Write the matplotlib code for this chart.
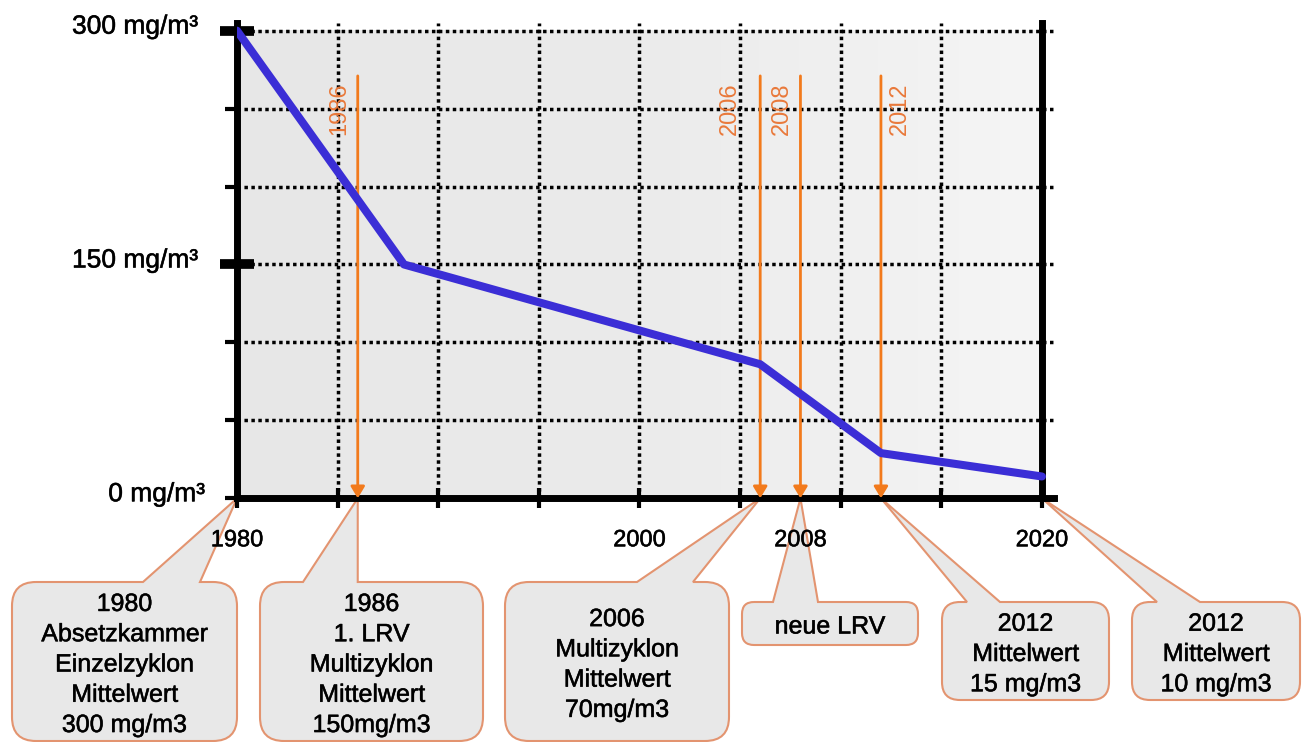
import numpy as np
import matplotlib
matplotlib.use("Agg")
import matplotlib.pyplot as plt
import matplotlib.patheffects as pe
from matplotlib.path import Path
from matplotlib.patches import PathPatch
from matplotlib.colors import LinearSegmentedColormap

plt.rcParams['font.family'] = ['Liberation Sans', 'DejaVu Sans']

# Staubemission (Mittelwert) ueber die Jahre
years = [1980, 1988.3, 2006, 2012, 2020]
dust = [300, 150, 86, 29, 14]

# Stichtage (orange Pfeile)
event_years = [1986, 2006, 2008, 2012]
event_labels = ["1986", "2006", "2008", "2012"]

# Achsenbeschriftung
y_values = [0, 150, 300]
y_labels = ["0 mg/m³", "150 mg/m³", "300 mg/m³"]
x_label_years = [1980, 2000, 2008, 2020]

# Sprechblasen unter der Zeitachse
note_years = [1980, 1986, 2006, 2008, 2012, 2020]
note_texts = [
    "1980\nAbsetzkammer\nEinzelzyklon\nMittelwert\n300 mg/m3",
    "1986\n1. LRV\nMultizyklon\nMittelwert\n150mg/m3",
    "2006\nMultizyklon\nMittelwert\n70mg/m3",
    "neue LRV",
    "2012\nMittelwert\n15 mg/m3",
    "2012\nMittelwert\n10 mg/m3",
]

W, H = 1309, 742
BLUE = "#3b2ed6"
ORANGE = "#f27a1c"
LABEL_ORANGE = "#e9793a"
BOX_FILL = "#e8e8e8"
BOX_EDGE = "#e39470"
heavy = [pe.withStroke(linewidth=0.4, foreground="#111111")]

fig = plt.figure(figsize=(W / 100, H / 100), dpi=100)
fig.patch.set_facecolor("white")
ax = fig.add_axes([237 / W, 1 - 498.3 / H, (1054 - 237) / W, (498.3 - 22.9) / H])
ax.set_zorder(2)
ax.patch.set_visible(False)

# hellgrauer Hintergrund, nach rechts heller werdend
shade = LinearSegmentedColormap.from_list("shade", ["#e7e7e7", "#ebebeb", "#f5f5f5"])
ax.imshow(np.linspace(0, 1, 256)[None, :], extent=(1980, 2020, 0, 300), aspect="auto",
          cmap=shade, interpolation="bilinear", zorder=0)

ax.set_xlim(1980, 2020.6)
ax.set_ylim(0, 305)

for s in ["left", "bottom", "right"]:
    ax.spines[s].set_linewidth(5)
    ax.spines[s].set_color("black")
ax.spines["top"].set_visible(False)
ax.spines["right"].set_position(("data", 2020))

ax.set_xticks(np.arange(1980, 2021, 5))
ax.set_yticks([150, 300])
ax.set_yticks([0, 50, 100, 200, 250], minor=True)
ax.tick_params(axis="x", which="major", direction="inout", length=14, width=3,
               labelbottom=False)
ax.tick_params(axis="y", which="major", direction="inout", length=24, width=7,
               labelleft=False)
ax.tick_params(axis="y", which="minor", direction="out", length=9, width=3)
ax.set_axisbelow(True)
ax.grid(True, axis="x", which="major", ls=(0, (1, 1)), lw=2.5, color="black")
ax.grid(True, axis="y", which="both", ls=(0, (1, 1)), lw=2.5, color="black")

for val, lab in zip(y_values, y_labels):
    dx = -32 if val == 0 else -39
    ax.annotate(lab, xy=(1980, val), xytext=(dx, -3), textcoords="offset pixels",
                ha="right", va="baseline", fontsize=19, path_effects=heavy)
for yr in x_label_years:
    ax.annotate(str(yr), xy=(yr, 0), xytext=(0, -48), textcoords="offset pixels",
                ha="center", va="baseline", fontsize=17, annotation_clip=False,
                path_effects=heavy)

# Stichtage als orange Pfeile mit senkrechter Jahreszahl
label_dx = [-18, -30, -19, 19]
for yr, lab, dx in zip(event_years, event_labels, label_dx):
    ax.annotate("", xy=(yr, 0), xytext=(yr, 271),
                arrowprops=dict(arrowstyle="-|>,head_length=0.5,head_width=0.3",
                                color=ORANGE, lw=2, shrinkA=0, shrinkB=0,
                                mutation_scale=14), zorder=3)
    ax.annotate(lab, xy=(yr, 267), xytext=(dx, 0), textcoords="offset pixels",
                rotation=90, ha="center", va="top", fontsize=17, color=LABEL_ORANGE,
                zorder=3)

ax.plot(years, dust, color=BLUE, lw=5.8, solid_joinstyle="round",
        solid_capstyle="round", zorder=4)


def to_fig(x, y):
    return x / W, 1 - y / H


def callout(x0, y0, x1, y1, r, bl, br, tip):
    pts = [(x0 + r, y0), (bl, y0), tip, (br, y0), (x1 - r, y0),
           (x1, y0), (x1, y0 + r), (x1, y1 - r),
           (x1, y1), (x1 - r, y1), (x0 + r, y1),
           (x0, y1), (x0, y1 - r), (x0, y0 + r),
           (x0, y0), (x0 + r, y0)]
    codes = [Path.MOVETO, Path.LINETO, Path.LINETO, Path.LINETO, Path.LINETO,
             Path.CURVE3, Path.CURVE3, Path.LINETO,
             Path.CURVE3, Path.CURVE3, Path.LINETO,
             Path.CURVE3, Path.CURVE3, Path.LINETO,
             Path.CURVE3, Path.CURVE3]
    path = Path([to_fig(*p) for p in pts], codes)
    fig.add_artist(PathPatch(path, transform=fig.transFigure, facecolor=BOX_FILL,
                             edgecolor=BOX_EDGE, lw=1.5, zorder=1))


# Lage der Sprechblasen in Pixeln: x0, y0, x1, y1, Radius, Fuss links, Fuss rechts
boxes = [
    (12, 582, 237, 741, 24, 143, 200),
    (260, 582, 483, 741, 24, 303, None),
    (505, 582, 729, 741, 24, 637, 693),
    (742, 602, 918, 645, 12, 773, 818),
    (942, 602, 1109, 700, 18, 967, 1000),
    (1132, 602, 1300, 700, 18, 1157, 1200),
]
for (x0, y0, x1, y1, r, bl, br), yr, txt in zip(boxes, note_years, note_texts):
    dx, dy = ax.transData.transform((yr, 0))
    tip = (dx, H - dy)
    if br is None:
        br = tip[0]
    callout(x0, y0, x1, y1, r, bl, br, tip)
    fx, fy = to_fig((x0 + x1) / 2, (y0 + y1) / 2 + 3)
    fig.text(fx, fy, txt, ha="center", va="center", fontsize=18, linespacing=1.33,
             zorder=3, path_effects=heavy)

fig.savefig("out.png", dpi=100)
